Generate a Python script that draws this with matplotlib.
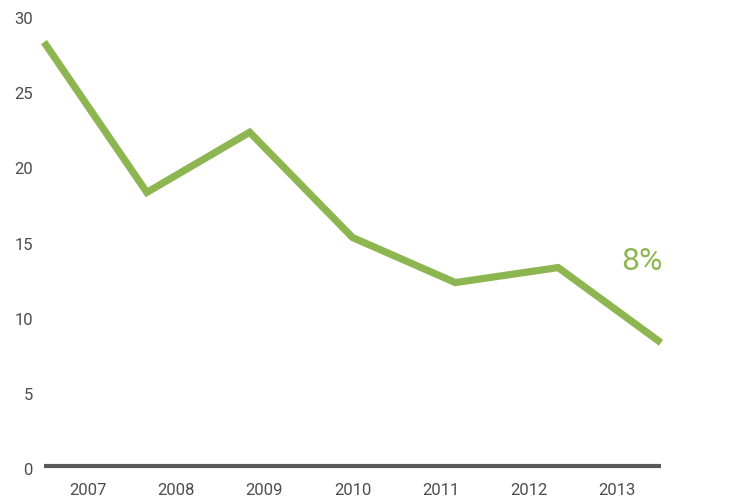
import matplotlib.pyplot as plt
import matplotlib.transforms as mtransforms
from matplotlib import font_manager

years = ['2007', '2008', '2009', '2010', '2011', '2012', '2013']
values = [28.2, 18.2, 22.2, 15.2, 12.2, 13.2, 8.2]
end_label = '8%'

green = '#8db651'
grey = '#595959'

family = 'Roboto'
names = {f.name for f in font_manager.fontManager.ttflist}
if family not in names:
    family = 'DejaVu Sans'
plt.rcParams['font.family'] = [family, 'DejaVu Sans']

fig = plt.figure(figsize=(7.5, 5), dpi=100)
ax = fig.add_axes([44 / 750, 34 / 500, 617 / 750, 451 / 500])

xs = list(range(len(values)))
ax.plot(xs, values, color=green, linewidth=5.2, solid_capstyle='butt',
        solid_joinstyle='miter', clip_on=False)

n = len(years)
span = n - 1
ax.set_xticks([(i + 0.5) * span / n for i in range(n)])
ax.set_xticklabels(years)
ax.set_xlim(0, span)
ax.set_ylim(0, 30)
ax.set_yticks([0, 5, 10, 15, 20, 25, 30])

ax.tick_params(axis='both', length=0, colors='#4d4d4d', labelsize=12)
ax.tick_params(axis='x', pad=12)
ax.tick_params(axis='y', pad=8)

# y labels sit a touch below their values in the original
shift = mtransforms.ScaledTranslation(0, -3 / 100, fig.dpi_scale_trans)
for lbl in ax.get_yticklabels():
    lbl.set_transform(lbl.get_transform() + shift)

for side in ['top', 'right', 'left']:
    ax.spines[side].set_visible(False)
ax.spines['bottom'].set_color(grey)
ax.spines['bottom'].set_linewidth(3)
ax.spines['bottom'].set_capstyle('butt')

ax.text(5.815, 13.6, end_label, color=green, fontsize=23,
        ha='center', va='center')

fig.savefig('out.png', dpi=100)
